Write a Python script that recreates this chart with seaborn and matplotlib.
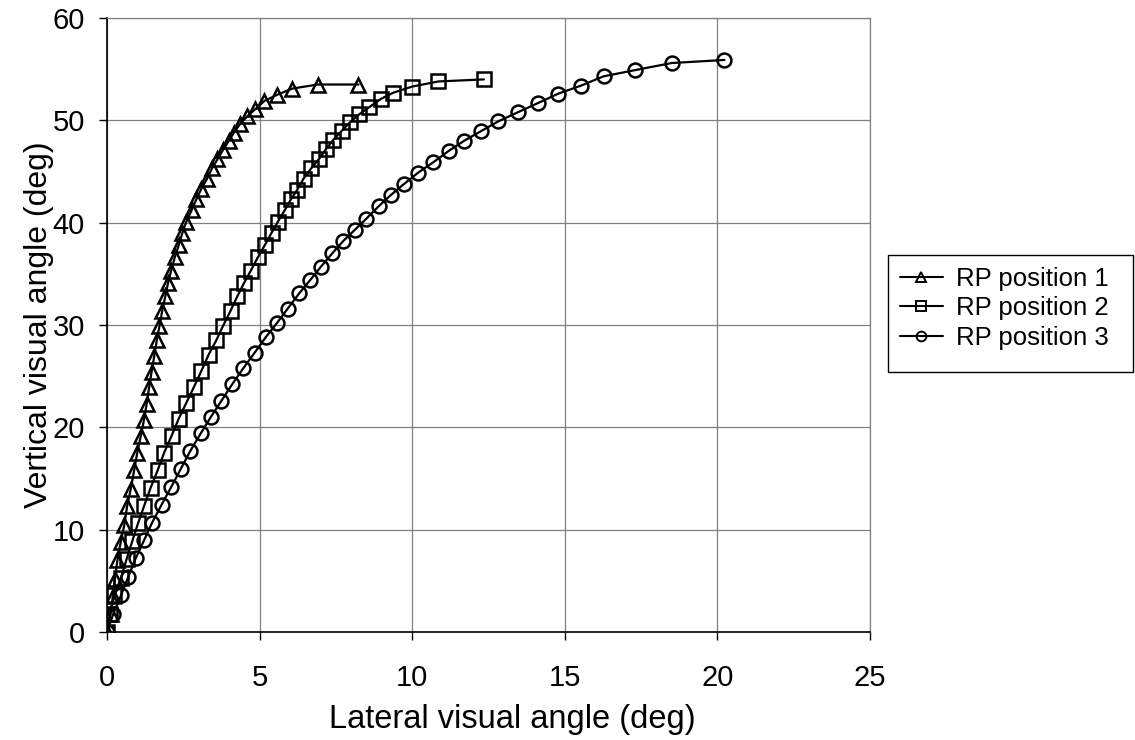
import numpy as np
import pandas as pd
import matplotlib
matplotlib.use("Agg")
import matplotlib.pyplot as plt
from matplotlib.lines import Line2D
from matplotlib.patches import Rectangle
import seaborn as sns

# ---- data ----
series_names = ["RP position 1", "RP position 2", "RP position 3"]

x1 = [0, 0.12, 0.19, 0.26, 0.34, 0.45, 0.57, 0.66, 0.78, 0.89,
      0.99, 1.11, 1.21, 1.30, 1.38, 1.46, 1.55, 1.63, 1.72, 1.81,
      1.91, 2.00, 2.10, 2.22, 2.35, 2.47, 2.60, 2.77, 2.93, 3.09,
      3.28, 3.44, 3.62, 3.80, 3.99, 4.16, 4.35, 4.60, 4.86, 5.16,
      5.58, 6.07, 6.90, 8.24]
y1 = [0, 1.8, 3.5, 5.2, 7.0, 8.8, 10.5, 12.3, 14.0, 15.8,
      17.5, 19.2, 20.7, 22.3, 23.9, 25.4, 27.0, 28.5, 29.9, 31.4,
      32.8, 34.1, 35.3, 36.6, 37.8, 39.0, 40.1, 41.2, 42.3, 43.3,
      44.3, 45.3, 46.2, 47.1, 48.0, 48.8, 49.6, 50.4, 51.1, 51.9,
      52.5, 53.1, 53.5, 53.5]

x2 = [0, 0.10, 0.24, 0.46, 0.64, 0.83, 1.02, 1.22, 1.43, 1.66,
      1.87, 2.12, 2.35, 2.60, 2.85, 3.09, 3.33, 3.58, 3.80, 4.05,
      4.27, 4.49, 4.71, 4.94, 5.17, 5.39, 5.60, 5.82, 6.03, 6.23,
      6.44, 6.69, 6.94, 7.18, 7.42, 7.70, 7.96, 8.27, 8.60, 8.98,
      9.38, 10.00, 10.86, 12.35]
y2 = [0, 1.8, 3.6, 5.3, 7.1, 8.9, 10.65, 12.35, 14.1, 15.8,
      17.5, 19.2, 20.85, 22.4, 23.95, 25.5, 27.1, 28.5, 29.9, 31.4,
      32.8, 34.1, 35.3, 36.6, 37.8, 39.0, 40.1, 41.2, 42.3, 43.2,
      44.3, 45.3, 46.2, 47.2, 48.1, 49.0, 49.8, 50.6, 51.3, 52.1,
      52.7, 53.3, 53.8, 54.0]

x3 = [0, 0.21, 0.46, 0.70, 0.94, 1.22, 1.48, 1.79, 2.11, 2.42,
      2.73, 3.07, 3.40, 3.75, 4.10, 4.46, 4.84, 5.20, 5.57, 5.92,
      6.30, 6.66, 7.01, 7.38, 7.74, 8.12, 8.50, 8.90, 9.30, 9.74,
      10.20, 10.69, 11.19, 11.70, 12.26, 12.82, 13.47, 14.13, 14.78, 15.54,
      16.27, 17.29, 18.50, 20.23]
y3 = [0, 1.8, 3.6, 5.4, 7.2, 9.0, 10.7, 12.45, 14.2, 15.95,
      17.7, 19.4, 21.0, 22.6, 24.2, 25.75, 27.3, 28.8, 30.2, 31.6,
      33.1, 34.4, 35.7, 37.0, 38.2, 39.3, 40.4, 41.6, 42.7, 43.8,
      44.9, 45.9, 47.0, 48.0, 48.95, 49.9, 50.8, 51.7, 52.6, 53.4,
      54.3, 54.9, 55.6, 55.9]

x_ticks = [0, 5, 10, 15, 20, 25]
y_ticks = [0, 10, 20, 30, 40, 50, 60]
x_title = "Lateral visual angle (deg)"
y_title = "Vertical visual angle (deg)"

frames = []
for name, xs, ys in zip(series_names, [x1, x2, x3], [y1, y2, y3]):
    frames.append(pd.DataFrame({"x": xs, "y": ys, "series": name,
                                "order": np.arange(len(xs))}))
df = pd.concat(frames, ignore_index=True)

# ---- style ----
sns.set_style("white")
plt.rcParams["font.family"] = ["Liberation Sans", "DejaVu Sans"]
plt.rcParams["text.color"] = "black"
plt.rcParams["axes.labelcolor"] = "black"
plt.rcParams["xtick.color"] = "black"
plt.rcParams["ytick.color"] = "black"

W, H = 1135, 740
fig = plt.figure(figsize=(W / 100, H / 100), dpi=100)
ax = fig.add_axes([107 / W, 1 - 632 / H, 763 / W, 614 / H])

marker_map = {"RP position 1": "^", "RP position 2": "s", "RP position 3": "o"}

sns.lineplot(data=df, x="x", y="y", style="series", markers=marker_map,
             dashes=False, sort=False, estimator=None, units="series",
             color="black", legend=False, ax=ax,
             linewidth=1.6, markersize=10, markerfacecolor="none",
             markeredgecolor="black", markeredgewidth=1.8, zorder=3)

ax.set_xlim(0, 25)
ax.set_ylim(0, 60)
ax.set_xticks(x_ticks)
ax.set_yticks(y_ticks)
ax.set_xticklabels([str(t) for t in x_ticks])
ax.set_yticklabels([str(t) for t in y_ticks])

ax.grid(True, color="#808080", linewidth=0.9)
ax.set_axisbelow(True)

for side in ["top", "right"]:
    ax.spines[side].set_color("#808080")
    ax.spines[side].set_linewidth(0.9)
for side in ["left", "bottom"]:
    ax.spines[side].set_color("black")
    ax.spines[side].set_linewidth(1.2)

ax.tick_params(axis="both", which="major", direction="out", length=6,
               width=1, colors="black", labelsize=21,
               left=True, bottom=True)
ax.tick_params(axis="y", pad=10)
ax.tick_params(axis="x", pad=17)

ax.set_xlabel(x_title, fontsize=23.5, color="black")
ax.set_ylabel(y_title, fontsize=23, color="black")
ax.xaxis.set_label_coords(0.531, -0.118)
ax.yaxis.set_label_coords(-0.07, 0.5)

# legend (entries) + rectangular frame like the reference
handles = [Line2D([0], [0], color="black", linewidth=1.5, marker=marker_map[n],
                  markersize=7, markerfacecolor="none", markeredgecolor="black",
                  markeredgewidth=1.4)
           for n in series_names]
leg = fig.legend(handles, series_names, loc="upper left",
                 bbox_to_anchor=(888 / W, 1 - 255 / H),
                 bbox_transform=fig.transFigure, fontsize=18.5,
                 frameon=False, borderpad=0.45, labelspacing=0.22,
                 handlelength=1.7, handletextpad=0.5, borderaxespad=0)
for t in leg.get_texts():
    t.set_color("black")

fig.patches.append(Rectangle((888 / W, 1 - 372 / H), (1133 - 888) / W, (372 - 255) / H,
                             transform=fig.transFigure, fill=False,
                             edgecolor="black", linewidth=1.0))

fig.savefig("out.png", dpi=100)
